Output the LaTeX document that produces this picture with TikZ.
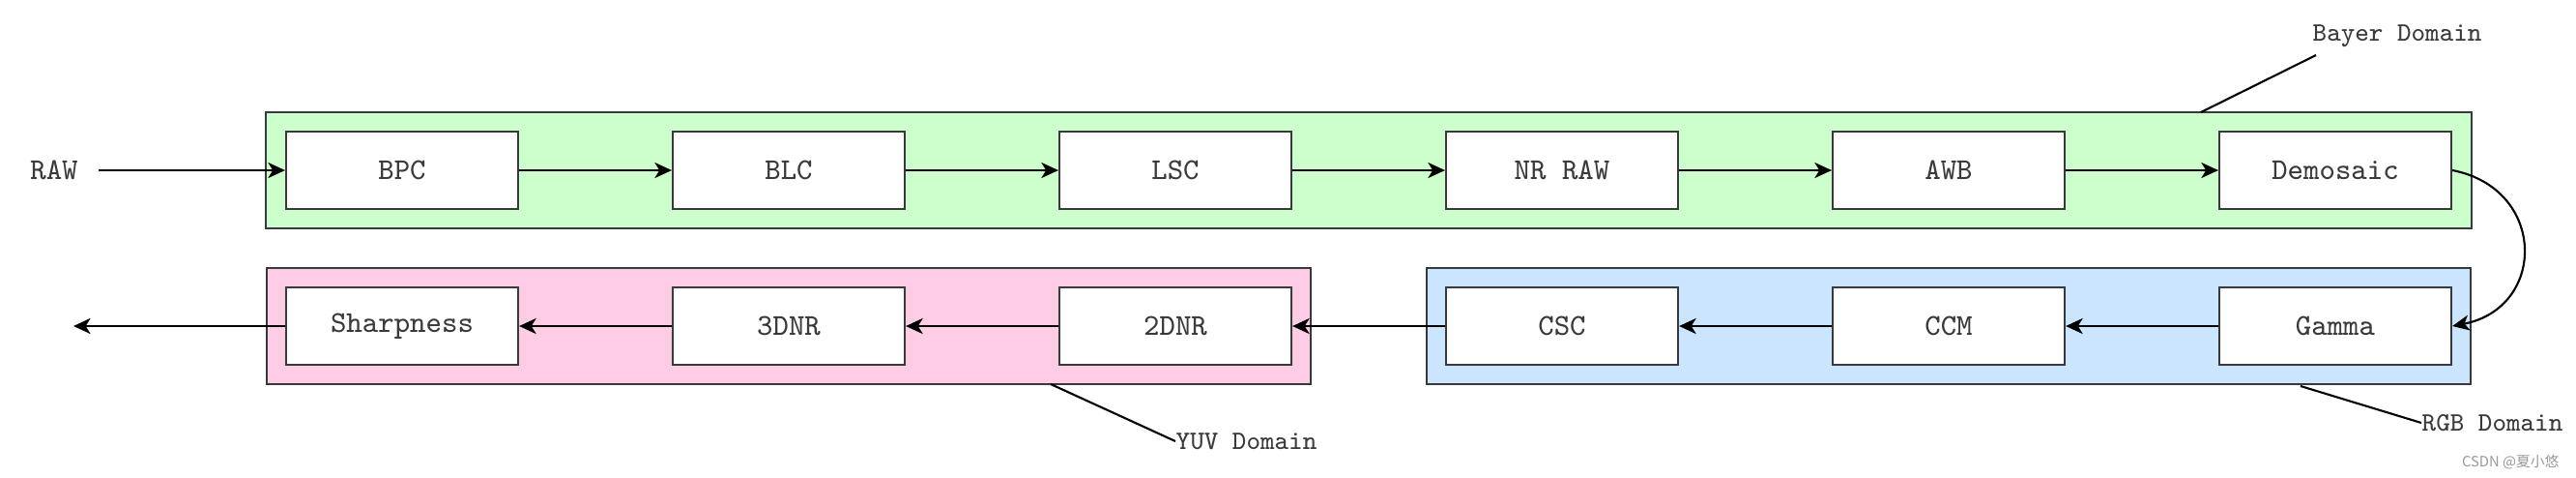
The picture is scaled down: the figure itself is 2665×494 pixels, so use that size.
\documentclass[tikz,border=0pt]{standalone}
\usepackage{fontspec}
\newfontfamily\cjk{Noto Sans CJK SC}
\usetikzlibrary{arrows.meta}
\definecolor{bayerfill}{HTML}{CCFFCC}
\definecolor{yuvfill}{HTML}{FFCCE6}
\definecolor{rgbfill}{HTML}{CCE5FF}
\definecolor{edge}{HTML}{36393D}
\definecolor{txt}{HTML}{3A3A3A}
\tikzset{
  stage/.style={draw=edge, line width=0.6pt, fill=white, minimum width=2.4cm, minimum height=0.8cm,
    inner sep=0pt, text=txt, font=\fontsize{8.9}{10}\selectfont\ttfamily},
  groupbox/.style={draw=edge, line width=0.6pt, inner sep=0pt, minimum height=1.2cm},
  domlabel/.style={inner sep=0pt, text=txt, font=\fontsize{7.8}{9}\selectfont\ttfamily},
  arr/.style={line width=0.6pt, -{Stealth[length=5pt,width=4.6pt,inset=1.4pt]}},
  lead/.style={line width=0.6pt}
}
\begin{document}
\begin{tikzpicture}[x=0.01cm,y=-0.01cm]
\useasboundingbox (0,0) rectangle (2665,494);
% domains
\node[groupbox, fill=bayerfill, minimum width=22.8cm] (bayer) at (1416,176) {};
\node[groupbox, fill=yuvfill, minimum width=10.8cm] (yuv) at (816,337) {};
\node[groupbox, fill=rgbfill, minimum width=10.8cm] (rgb) at (2016,337) {};
% top row
\node[stage] (bpc) at (416,176) {BPC};
\node[stage] (blc) at (816,176) {BLC};
\node[stage] (lsc) at (1216,176) {LSC};
\node[stage] (nrraw) at (1616,176) {NR RAW};
\node[stage] (awb) at (2016,176) {AWB};
\node[stage] (demosaic) at (2416,176) {Demosaic};
% bottom row
\node[stage] (sharp) at (416,337) {Sharpness};
\node[stage] (tdnr) at (816,337) {3DNR};
\node[stage] (ddnr) at (1216,337) {2DNR};
\node[stage] (csc) at (1616,337) {CSC};
\node[stage] (ccm) at (2016,337) {CCM};
\node[stage] (gamma) at (2416,337) {Gamma};
% input / output
\node[inner sep=0pt, text=txt, font=\fontsize{8.9}{10}\selectfont\ttfamily] (raw) at (56,176) {RAW};
\coordinate (rawout) at (102,176);
\coordinate (out) at (76,337);
% connectors
\draw[arr] (rawout) -- (bpc.west);
\draw[arr] (bpc) -- (blc);
\draw[arr] (blc) -- (lsc);
\draw[arr] (lsc) -- (nrraw);
\draw[arr] (nrraw) -- (awb);
\draw[arr] (awb) -- (demosaic);
\draw[arr] (demosaic.east) .. controls (2635,195) and (2635,318) .. (gamma.east);
\draw[arr] (gamma) -- (ccm);
\draw[arr] (ccm) -- (csc);
\draw[arr] (csc) -- (ddnr);
\draw[arr] (ddnr) -- (tdnr);
\draw[arr] (tdnr) -- (sharp);
\draw[arr] (sharp.west) -- (out);
% domain labels
\node[domlabel, anchor=west] (bayerlbl) at (2392,37) {Bayer Domain};
\node[domlabel, anchor=west] (yuvlbl) at (1216,456) {YUV Domain};
\node[domlabel, anchor=west] (rgblbl) at (2505,437) {RGB Domain};
\coordinate (bayerA) at (2396,57);
\coordinate (bayerB) at (2277,116);
\coordinate (yuvA) at (1087,397);
\coordinate (rgbA) at (2380,399);
\draw[lead] (bayerA) -- (bayerB);
\draw[lead] (yuvA) -- (yuvlbl.west);
\draw[lead] (rgbA) -- (rgblbl.west);
% watermark
\node[inner sep=0pt, anchor=east, text=black!40, font=\fontsize{4.2}{5}\selectfont\cjk] (wm) at (2648,478) {CSDN @夏小悠};
\end{tikzpicture}
\end{document}
